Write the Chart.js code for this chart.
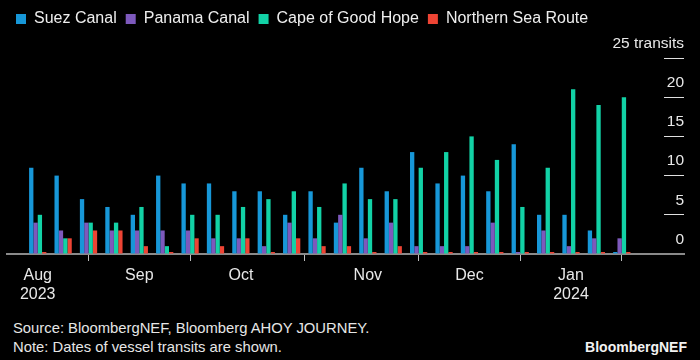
<!DOCTYPE html>
<html>
<head>
<meta charset="utf-8">
<script src="https://cdn.jsdelivr.net/npm/chart.js@4"></script>
<style>
  html, body { margin: 0; padding: 0; background: #000; }
  #wrap { position: relative; width: 700px; height: 360px; background: #000; font-family: "Liberation Sans", Arial, sans-serif; color: #e6e6e6; }
  #box { position: absolute; left: 0; top: 0; width: 700px; height: 312px; }
  .note { position: absolute; left: 13px; font-size: 14.8px; line-height: 18px; white-space: nowrap; }
  .brand { position: absolute; right: 13px; top: 338px; font-size: 14px; line-height: 18px; font-weight: bold; color: #f2f2f2; }
</style>
</head>
<body>
<div id="wrap">
  <div id="box"><canvas id="transitChart"></canvas></div>
  <div class="note" style="top:319px">Source: BloombergNEF, Bloomberg AHOY JOURNEY.</div>
  <div class="note" style="top:338px">Note: Dates of vessel transits are shown.</div>
  <div class="brand">BloombergNEF</div>
</div>
<script>
// weekly buckets
const weeks = [
  '2023-08-07','2023-08-14','2023-08-21','2023-08-28',
  '2023-09-04','2023-09-11','2023-09-18','2023-09-25',
  '2023-10-02','2023-10-09','2023-10-16','2023-10-23','2023-10-30',
  '2023-11-06','2023-11-13','2023-11-20','2023-11-27',
  '2023-12-04','2023-12-11','2023-12-18','2023-12-25',
  '2024-01-01','2024-01-08','2024-01-15'
];

// transits per week
const suez     = [11,10, 7, 6, 5,10, 9, 9, 8, 8, 5, 8, 4,11, 8,13, 9,10, 8,14, 5, 5, 3, 0];
const panama   = [ 4, 3, 4, 3, 3, 3, 3, 2, 2, 1, 4, 2, 5, 2, 4, 1, 1, 1, 4, 0, 3, 1, 2, 2];
const cape     = [ 5, 2, 4, 4, 6, 1, 5, 5, 6, 7, 8, 6, 9, 7, 7,11,13,15,12, 6,11,21,19,20];
const northern = [ 0, 2, 3, 3, 1, 0, 2, 1, 2, 0, 2, 1, 1, 0, 1, 0, 0, 0, 0, 0, 0, 0, 0, 0];

// month ticks
const tickWeeks = ['2023-08-07','2023-09-04','2023-10-02','2023-11-06','2023-12-04','2024-01-01'];
const tickText  = [['Aug','2023'],['Sep'],['Oct'],['Nov'],['Dec'],['Jan','2024']];
const yTicks = [0, 5, 10, 15, 20, 25];

const seriesNames  = ['Suez Canal','Panama Canal','Cape of Good Hope','Northern Sea Route'];
const seriesData   = [suez, panama, cape, northern];
const seriesColors = ['#1797D8','#7D59BC','#12D2A6','#EE4434'];

const tickPos = tickWeeks.map(w => weeks.indexOf(w));

const ctx = document.getElementById('transitChart');

new Chart(ctx, {
  type: 'bar',
  data: {
    datasets: seriesNames.map((name, s) => ({
      label: name,
      data: seriesData[s].map((v, i) => ({ x: i, y: v })),
      backgroundColor: seriesColors[s],
      borderWidth: 0,
      minBarLength: 2,
      categoryPercentage: 0.68,
      barPercentage: 1
    }))
  },
  options: {
    responsive: true,
    maintainAspectRatio: false,
    animation: false,
    layout: { padding: { left: 7, right: 16, top: 2, bottom: 0 } },
    plugins: {
      legend: {
        position: 'top',
        align: 'start',
        labels: {
          boxWidth: 10,
          boxHeight: 10,
          padding: 9,
          color: '#eeeeee',
          font: { family: 'Liberation Sans', size: 16 }
        }
      },
      title: {
        display: true,
        text: '',
        weight: 500,
        font: { size: 10, lineHeight: 1 },
        padding: { top: 0, bottom: 11 }
      },
      tooltip: { enabled: false }
    },
    scales: {
      x: {
        type: 'linear',
        min: -1.21,
        max: 25.45,
        offset: false,
        afterFit: s => { s.height = 58; },
        afterBuildTicks: s => { s.ticks = tickPos.map(v => ({ value: v })); },
        grid: { drawOnChartArea: false, drawTicks: true, tickLength: 7, color: '#bdbdbd', lineWidth: 1 },
        border: { display: true, color: '#8a8a8a', width: 2 },
        ticks: {
          autoSkip: false,
          maxRotation: 0,
          padding: 5,
          color: '#e8e8e8',
          font: { family: 'Liberation Sans', size: 16 },
          callback: v => tickText[tickPos.indexOf(v)]
        }
      },
      y: {
        type: 'linear',
        position: 'right',
        min: 0,
        max: 25,
        afterFit: s => { s.width = 0; },
        afterBuildTicks: s => { s.ticks = yTicks.map(v => ({ value: v })); },
        grid: {
          drawOnChartArea: false,
          drawTicks: true,
          tickLength: -20,
          lineWidth: 1,
          color: c => (c.tick && c.tick.value === 0) ? 'rgba(0,0,0,0)' : '#e0e0e0'
        },
        border: { display: false },
        ticks: {
          mirror: true,
          padding: 0,
          labelOffset: -14.5,
          color: '#e8e8e8',
          font: { family: 'Liberation Sans', size: 15.5 },
          callback: v => v === 25 ? '25 transits' : v
        }
      }
    }
  }
});
</script>
</body>
</html>
